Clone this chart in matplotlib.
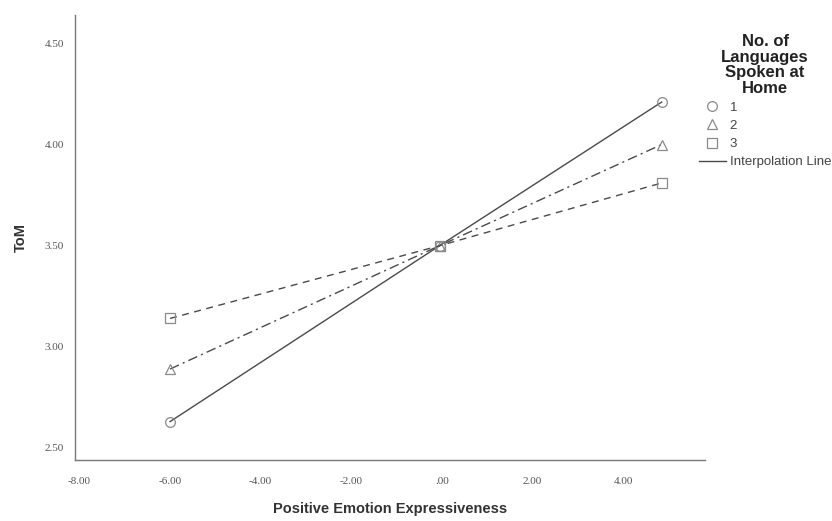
import matplotlib.pyplot as plt
from matplotlib.lines import Line2D

plt.rcParams["font.family"] = ["Liberation Sans", "DejaVu Sans"]

# simple slopes: ToM against positive emotion expressiveness
x_points = [-6.0, -0.05, 4.85]
tom_1 = [2.63, 3.50, 4.21]
tom_2 = [2.89, 3.50, 4.00]
tom_3 = [3.14, 3.50, 3.81]

group_labels = ["1", "2", "3"]
markers = ["o", "^", "s"]
styles = ["-", (0, (7, 3, 1.5, 3)), (0, (5, 4))]
x_ticks = [-8, -6, -4, -2, 0, 2, 4]
x_tick_labels = ["-8.00", "-6.00", "-4.00", "-2.00", ".00", "2.00", "4.00"]
y_ticks = [2.5, 3.0, 3.5, 4.0, 4.5]
y_tick_labels = ["2.50", "3.00", "3.50", "4.00", "4.50"]

line_col = "#4a4a4a"
mark_col = "#8a8a8a"

fig = plt.figure(figsize=(8.32, 5.21), dpi=100)
ax = fig.add_axes([0.090, 0.117, 0.757, 0.854])

for y, m, ls in zip([tom_1, tom_2, tom_3], markers, styles):
    ax.plot(x_points, y, linestyle=ls, color=line_col, linewidth=1.0)
    ax.plot(x_points, y, linestyle="none", marker=m, markersize=7,
            markerfacecolor="none", markeredgecolor=mark_col, markeredgewidth=0.9)

ax.set_xlim(-8.1, 5.8)
ax.set_ylim(2.44, 4.64)
ax.set_xticks(x_ticks)
ax.set_xticklabels(x_tick_labels)
ax.set_yticks(y_ticks)
ax.set_yticklabels(y_tick_labels)
ax.tick_params(length=0, labelsize=8, colors="#555555")
ax.tick_params(axis="x", pad=12)
ax.tick_params(axis="y", pad=8)
for lab in ax.get_xticklabels() + ax.get_yticklabels():
    lab.set_family("Liberation Serif")

for side in ["top", "right"]:
    ax.spines[side].set_visible(False)
for side in ["left", "bottom"]:
    ax.spines[side].set_color("#777777")
    ax.spines[side].set_linewidth(1.0)

ax.set_xlabel("Positive Emotion Expressiveness", fontsize=10.5, fontweight="bold",
              color="#333333", labelpad=12)
ax.set_ylabel("ToM", fontsize=10.5, fontweight="bold", color="#333333", labelpad=12)

handles = [Line2D([], [], linestyle="none", marker=m, markersize=7,
                  markerfacecolor="none", markeredgecolor=mark_col, markeredgewidth=0.9)
           for m in markers]
handles.append(Line2D([], [], color=line_col, linewidth=1.0))
leg = fig.legend(handles, group_labels + ["Interpolation Line"],
                 title="No. of\nLanguages\nSpoken at\nHome",
                 loc="upper left", bbox_to_anchor=(0.834, 0.945), frameon=False,
                 fontsize=9.5, handlelength=2.0, handletextpad=0.3,
                 labelspacing=0.45, borderaxespad=0)
leg.get_title().set_fontweight("bold")
leg.get_title().set_fontsize(12)
leg.get_title().set_multialignment("center")
leg.get_title().set_linespacing(1.05)
leg.get_title().set_color("#222222")
for t in leg.get_texts():
    t.set_color("#444444")

fig.savefig("out.png", dpi=100)
